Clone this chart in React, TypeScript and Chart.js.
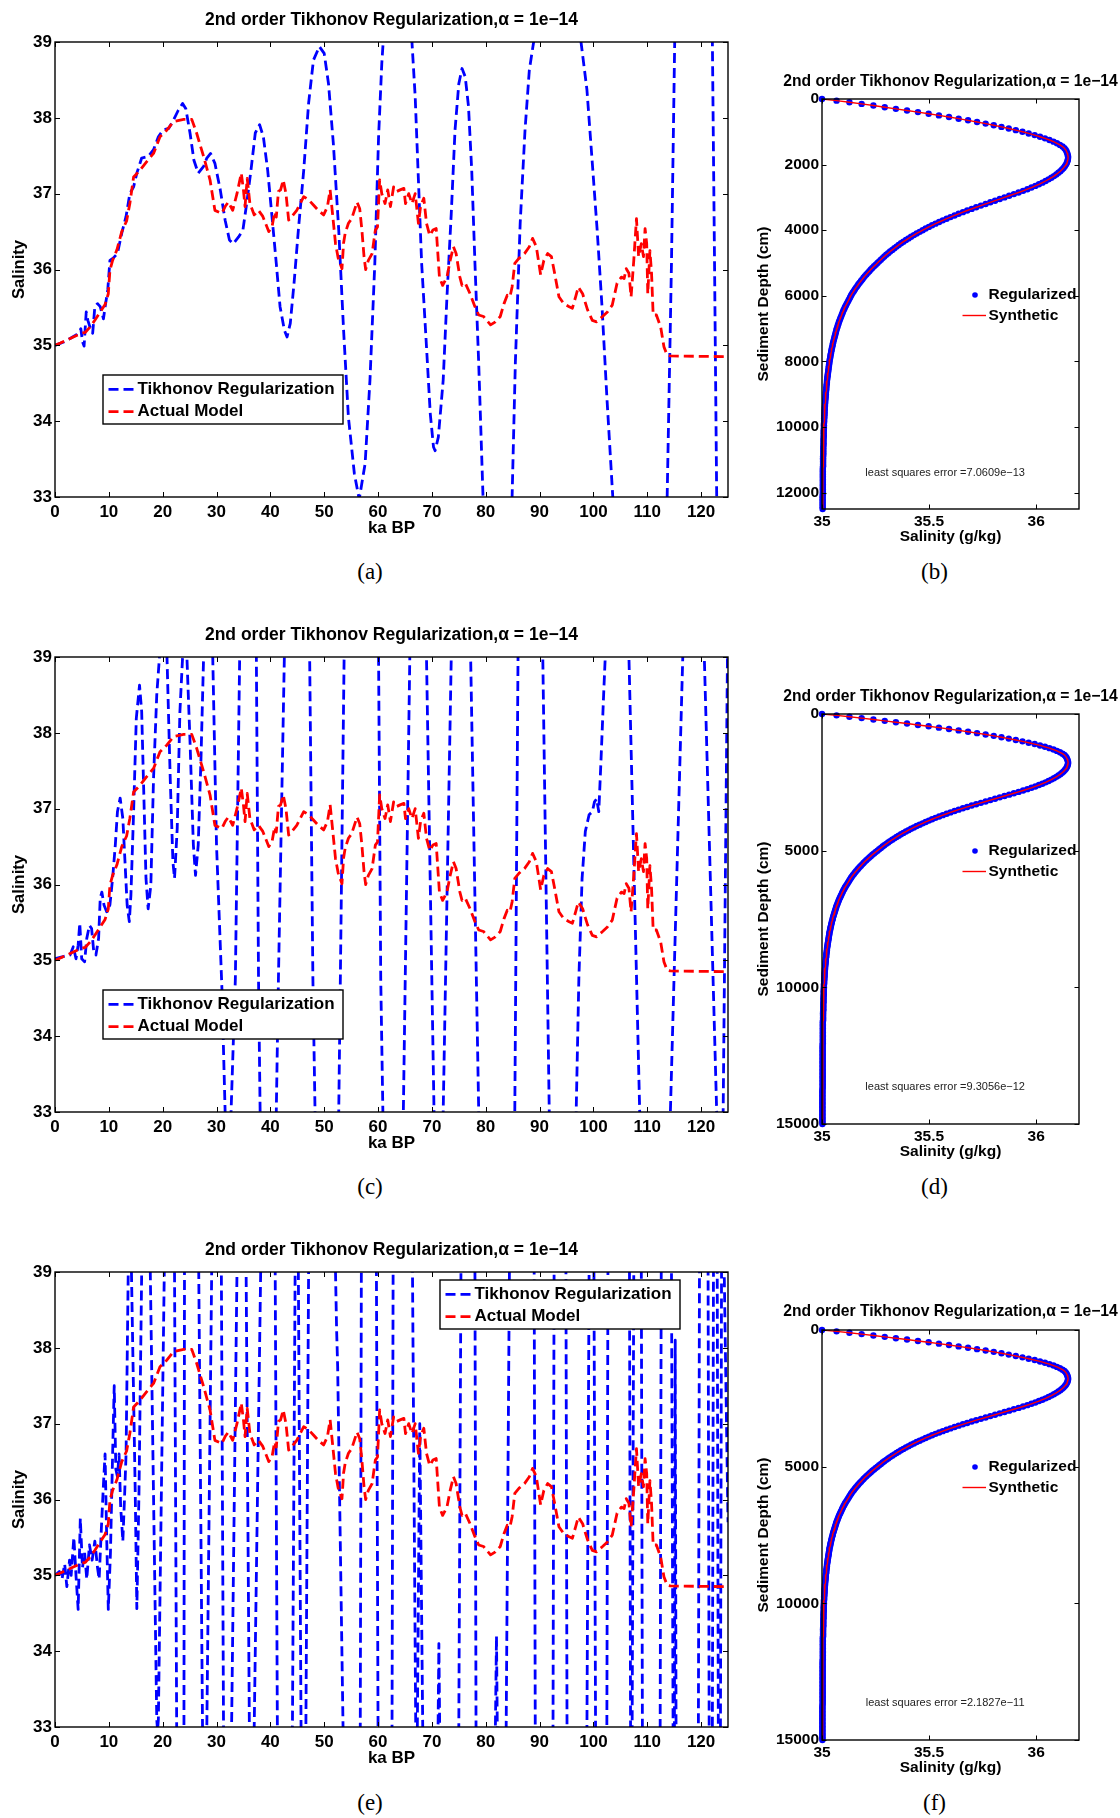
import React, { useEffect, useRef } from 'react';
import { Chart, registerables } from 'chart.js';

Chart.register(...registerables);

const FONT = '"Liberation Sans", Arial, Helvetica, sans-serif';
const SERIF = '"Liberation Serif", "Times New Roman", serif';
const BLUE = '#0000ff';
const RED = '#ff0000';
const TITLE = '2nd order Tikhonov Regularization,\u03b1 = 1e\u221214';

// Tick positions
const AGE_TICKS = [0, 10, 20, 30, 40, 50, 60, 70, 80, 90, 100, 110, 120];
const SALINITY_TICKS = [33, 34, 35, 36, 37, 38, 39];
const PROFILE_SALINITY_TICKS = [35, 35.5, 36];
const DEPTH_TICKS_SHORT = [0, 2000, 4000, 6000, 8000, 10000, 12000];
const DEPTH_TICKS_LONG = [0, 5000, 10000, 15000];

// Actual model salinity record: [age (ka BP), salinity]
const ACTUAL_MODEL: [number, number][] = [
  [0, 35.0], [1.0, 35.03], [2.2, 35.07], [3.4, 35.11], [4.6, 35.15], [5.6, 35.17], [6.5, 35.24], [7.4, 35.33],
  [8.4, 35.44], [9.3, 35.54], [9.9, 35.68], [10.2, 35.99], [10.7, 36.12], [11.5, 36.26], [12.4, 36.5], [13.3, 36.64],
  [13.9, 36.87], [14.6, 37.22], [15.8, 37.31], [17.0, 37.42], [18.3, 37.53], [19.5, 37.75], [20.8, 37.84], [22.0, 37.95],
  [23.9, 37.98], [25.4, 37.98], [26.3, 37.8], [27.6, 37.49], [28.8, 37.18], [29.7, 36.78], [31.0, 36.74], [31.6, 36.83],
  [32.2, 36.89], [33.0, 36.78], [33.8, 37.0], [34.6, 37.27], [35.0, 37.05], [35.3, 36.83], [35.7, 37.2], [36.2, 36.87],
  [37.0, 36.72], [37.8, 36.78], [38.6, 36.7], [39.7, 36.5], [40.3, 36.56], [40.8, 36.76], [41.1, 36.69], [41.5, 37.03],
  [41.9, 37.05], [42.4, 37.18], [42.9, 37.0], [43.4, 36.65], [44.0, 36.7], [44.9, 36.78], [46.2, 36.96], [47.1, 36.92],
  [48.0, 36.85], [48.9, 36.78], [49.9, 36.72], [50.6, 36.83], [51.1, 37.05], [51.6, 36.7], [52.1, 36.34], [52.6, 36.15],
  [53.3, 36.01], [53.6, 36.35], [53.9, 36.48], [54.5, 36.61], [55.1, 36.67], [55.6, 36.78], [56.1, 36.89], [56.6, 36.8],
  [57.0, 36.52], [57.4, 36.17], [57.7, 36.0], [58.2, 36.12], [58.9, 36.21], [59.5, 36.52], [59.9, 36.56], [60.3, 37.18],
  [60.7, 37.0], [61.3, 36.87], [61.8, 37.05], [62.3, 36.83], [62.9, 37.09], [63.5, 37.03], [64.1, 37.05], [64.8, 37.07],
  [65.1, 36.87], [65.7, 37.0], [66.3, 36.87], [66.9, 37.0], [67.5, 36.61], [67.9, 36.83], [68.5, 36.94], [69.0, 36.61],
  [69.6, 36.45], [70.2, 36.52], [70.8, 36.54], [71.4, 35.9], [72.0, 35.79], [72.8, 35.9], [73.4, 36.12], [74.0, 36.3],
  [74.5, 36.21], [75.2, 35.9], [75.6, 35.79], [76.2, 35.82], [77.1, 35.68], [78.0, 35.51], [78.7, 35.4], [79.6, 35.38],
  [80.9, 35.27], [81.8, 35.31], [82.7, 35.38], [83.4, 35.55], [84.0, 35.66], [84.5, 35.64], [84.9, 35.77], [85.4, 36.08],
  [86.2, 36.15], [87.2, 36.21], [88.1, 36.3], [88.7, 36.41], [89.4, 36.3], [90.2, 35.93], [90.8, 36.12], [91.5, 36.21],
  [92.2, 36.17], [92.8, 35.95], [93.6, 35.64], [94.5, 35.55], [95.5, 35.51], [96.1, 35.49], [96.7, 35.64], [97.2, 35.77],
  [98.0, 35.68], [98.9, 35.47], [99.8, 35.33], [100.6, 35.31], [101.7, 35.38], [102.6, 35.44], [103.5, 35.53], [104.4, 35.82],
  [105.2, 35.9], [105.7, 35.88], [106.1, 36.01], [106.6, 35.95], [107.0, 35.64], [107.5, 36.12], [108.0, 36.67], [108.4, 36.17],
  [108.9, 36.34], [109.3, 36.17], [109.6, 36.54], [109.9, 36.34], [110.1, 35.68], [110.5, 36.25], [110.8, 35.95], [111.1, 35.4],
  [111.7, 35.4], [112.5, 35.24], [113.1, 34.98], [113.7, 34.87], [114.3, 34.86], [125.0, 34.85],
];

// Tikhonov reconstruction, run (a)
const TIKHONOV_A: [number, number][] = [
  [0, 35.0], [1.5, 35.04], [2.8, 35.09], [4.0, 35.14], [4.5, 35.18], [4.8, 35.22], [5.1, 35.05], [5.4, 34.99],
  [5.8, 35.44], [6.1, 35.33], [6.5, 35.24], [7.0, 35.16], [7.4, 35.51], [7.9, 35.55], [8.4, 35.51], [9.0, 35.35],
  [9.4, 35.55], [9.8, 35.73], [10.2, 36.12], [10.8, 36.15], [11.6, 36.21], [12.4, 36.48], [13.2, 36.7], [13.9, 37.0],
  [14.6, 37.09], [15.2, 37.27], [16.1, 37.47], [17.3, 37.49], [18.3, 37.58], [19.2, 37.75], [20.1, 37.84], [21.1, 37.86],
  [22.0, 37.97], [22.9, 38.1], [23.7, 38.19], [24.3, 38.12], [25.1, 37.79], [25.8, 37.44], [26.6, 37.27], [27.6, 37.36],
  [28.2, 37.47], [28.9, 37.53], [29.7, 37.4], [30.7, 37.05], [31.6, 36.65], [32.4, 36.39], [33.1, 36.34], [34.1, 36.43],
  [34.9, 36.52], [35.6, 36.87], [36.4, 37.31], [37.2, 37.8], [38.0, 37.91], [38.7, 37.75], [39.5, 37.31], [40.3, 36.7],
  [41.1, 36.08], [41.8, 35.51], [42.6, 35.2], [43.1, 35.11], [43.7, 35.29], [44.4, 35.82], [45.2, 36.52], [46.2, 37.31],
  [47.1, 38.19], [48.0, 38.76], [49.1, 38.94], [50.0, 38.85], [50.8, 38.45], [51.7, 37.66], [52.7, 36.52], [53.6, 35.2],
  [54.5, 34.05], [55.6, 33.31], [56.5, 32.97], [57.6, 33.44], [58.5, 34.54], [59.4, 36.08], [60.1, 37.75], [60.7, 38.72],
  [61.5, 39.6], [62.5, 40.7], [63.6, 41.2], [64.8, 40.7], [65.8, 39.6], [66.9, 38.28], [67.5, 37.18], [68.1, 36.08],
  [69.0, 34.98], [69.7, 34.1], [70.3, 33.66], [70.6, 33.61], [71.2, 33.79], [72.1, 34.54], [72.8, 35.64], [73.6, 36.74],
  [74.3, 37.84], [75.0, 38.45], [75.6, 38.65], [76.2, 38.54], [76.8, 38.15], [77.4, 37.31], [78.0, 36.08], [78.7, 34.76],
  [79.5, 33.0], [80.5, 31.5], [82.2, 30.1], [83.9, 31.5], [84.9, 33.0], [85.5, 34.76], [86.4, 36.61], [87.3, 37.84],
  [88.1, 38.63], [88.9, 39.0], [90.5, 40.2], [93.3, 41.0], [96.0, 40.2], [97.7, 39.0], [98.8, 38.37], [99.8, 37.4],
  [100.7, 36.52], [101.6, 35.51], [102.5, 34.32], [103.6, 33.0], [105.5, 31.0], [108.6, 29.5], [111.7, 31.0], [113.7, 33.0],
  [114.5, 36.08], [115.1, 39.0], [116.5, 44.0], [118.6, 47.5], [120.7, 44.0], [122.1, 39.0], [122.5, 36.08], [122.9, 33.0],
  [123.8, 27.0], [125.0, 22.0],
];

// Tikhonov reconstruction, run (c)
const TIKHONOV_C: [number, number][] = [
  [0, 35.02], [1.5, 35.05], [2.8, 35.07], [3.4, 35.18], [3.9, 35.02], [4.3, 35.2], [4.6, 35.49], [4.96, 35.02],
  [5.5, 34.98], [5.9, 35.29], [6.4, 35.46], [6.8, 35.42], [7.2, 35.11], [7.6, 35.07], [8.1, 35.29], [8.4, 35.82],
  [8.7, 35.9], [9.1, 35.73], [9.6, 35.64], [10.2, 35.73], [10.7, 36.08], [11.2, 36.52], [11.6, 36.96], [12.1, 37.14],
  [12.6, 36.87], [13.0, 36.3], [13.4, 35.73], [13.8, 35.51], [14.1, 35.86], [14.6, 36.96], [15.1, 38.19], [15.7, 38.63],
  [16.1, 38.28], [16.5, 37.18], [16.9, 36.08], [17.3, 35.68], [17.8, 35.99], [18.3, 37.4], [18.9, 38.5], [19.4, 39.0],
  [20.1, 39.8], [20.8, 39.0], [21.4, 37.4], [21.9, 36.3], [22.2, 36.08], [22.7, 36.74], [23.2, 38.28], [23.7, 39.0],
  [24.1, 39.6], [24.5, 39.0], [25.1, 37.84], [25.7, 36.52], [26.1, 36.12], [26.6, 36.52], [27.1, 37.62], [27.6, 39.0],
  [28.45, 40.3], [29.3, 39.0], [30.0, 36.52], [31.0, 34.63], [31.6, 33.0], [32.15, 32.3], [32.7, 33.0], [33.5, 34.76],
  [34.3, 39.0], [35.85, 43.0], [37.4, 39.0], [37.8, 34.76], [38.1, 33.0], [39.6, 27.0], [41.1, 33.0], [41.5, 34.76],
  [42.6, 39.0], [44.95, 48.0], [47.3, 39.0], [47.9, 34.76], [48.3, 33.0], [50.5, 20.0], [52.7, 33.0], [53.0, 34.76],
  [53.7, 39.0], [56.9, 50.0], [60.1, 39.0], [60.5, 34.76], [60.9, 33.0], [62.8, 20.0], [64.7, 33.0], [65.9, 39.0],
  [67.45, 44.0], [69.0, 39.0], [70.4, 33.0], [71.25, 29.0], [72.1, 33.0], [73.6, 39.0], [75.4, 46.0], [77.2, 39.0],
  [78.7, 33.0], [82.05, 16.0], [85.4, 33.0], [86.0, 39.0], [88.3, 53.0], [90.6, 39.0], [91.8, 33.0], [94.3, 20.0],
  [96.8, 33.0], [97.3, 34.76], [97.9, 36.08], [98.5, 36.7], [99.2, 36.92], [99.8, 36.96], [100.2, 37.09], [100.6, 37.13],
  [101.0, 36.96], [101.4, 37.62], [101.9, 38.5], [102.2, 39.0], [104.4, 47.0], [106.6, 39.0], [108.6, 33.0], [111.45, 17.0],
  [114.3, 33.0], [116.6, 39.0], [118.6, 52.0], [120.6, 39.0], [122.9, 33.0], [123.5, 30.0], [124.1, 33.0], [124.9, 39.0],
  [125.0, 40.0],
];

// Tikhonov reconstruction, run (e)
const TIKHONOV_E: [number, number][] = [
  [0, 35.0], [0.8, 35.05], [1.3, 34.95], [1.8, 35.15], [2.2, 34.85], [2.7, 35.2], [3.0, 35.0], [3.5, 35.5],
  [3.9, 35.0], [4.3, 34.55], [4.7, 35.75], [5.1, 35.1], [5.5, 35.3], [5.9, 34.95], [6.4, 35.4], [6.9, 35.2],
  [7.4, 35.45], [7.9, 35.1], [8.2, 34.95], [8.6, 35.6], [9.0, 36.2], [9.3, 36.6], [9.6, 35.5], [9.9, 34.55],
  [10.3, 35.3], [10.7, 36.6], [11.0, 37.5], [11.3, 36.4], [11.6, 36.3], [11.9, 36.6], [12.2, 35.9], [12.6, 35.45],
  [12.9, 36.0], [13.2, 36.6], [13.6, 39.0], [13.9, 39.8], [14.2, 39.0], [14.9, 36.1], [15.2, 34.56], [15.6, 36.1],
  [16.1, 39.0], [16.9, 41.0], [17.7, 39.0], [18.9, 33.1], [19.05, 32.95], [19.2, 33.1], [20.3, 39.0], [21.2, 45.0],
  [22.2, 39.0], [22.6, 33.0], [23.3, 28.0], [23.95, 33.0], [24.05, 39.0], [25.4, 48.0], [26.7, 39.0], [27.4, 33.0],
  [27.8, 30.0], [28.2, 33.0], [29.1, 39.0], [30.0, 44.0], [30.9, 39.0], [31.3, 33.0], [32.0, 28.0], [32.8, 33.0],
  [33.8, 39.0], [34.6, 45.0], [35.5, 39.0], [36.1, 33.0], [36.5, 30.0], [37.0, 33.0], [38.2, 39.0], [39.6, 46.0],
  [40.9, 39.0], [41.3, 33.0], [42.7, 26.0], [44.1, 33.0], [44.6, 39.0], [44.9, 41.0], [45.2, 39.0], [45.7, 33.0],
  [46.15, 30.0], [46.6, 33.0], [47.1, 39.0], [49.6, 47.0], [52.1, 39.0], [52.3, 38.25], [52.5, 37.75], [53.5, 33.0],
  [55.1, 24.0], [56.7, 33.0], [56.9, 39.0], [58.3, 45.0], [59.7, 39.0], [60.0, 33.0], [61.3, 26.0], [62.6, 33.0],
  [62.8, 39.0], [64.6, 46.0], [66.4, 39.0], [67.0, 33.0], [67.15, 32.5], [67.3, 33.0], [67.75, 37.0], [68.3, 33.0],
  [69.7, 30.0], [71.15, 33.0], [71.3, 34.1], [71.45, 33.0], [73.2, 29.0], [75.0, 33.0], [75.4, 39.0], [76.7, 42.0],
  [78.0, 39.0], [78.2, 33.0], [80.0, 29.0], [81.8, 33.0], [82.0, 34.2], [82.15, 33.0], [83.0, 31.0], [83.8, 33.0],
  [84.4, 39.0], [86.7, 47.0], [89.0, 39.0], [89.2, 33.0], [90.85, 27.0], [92.5, 33.0], [92.7, 39.0], [93.8, 45.0],
  [94.9, 39.0], [95.1, 33.0], [96.9, 27.0], [98.8, 33.0], [99.2, 39.0], [99.65, 41.0], [100.1, 39.0], [100.4, 33.0],
  [101.45, 29.0], [102.5, 33.0], [102.7, 39.0], [104.7, 47.0], [106.7, 39.0], [106.9, 33.0], [107.05, 32.0], [107.2, 33.0],
  [107.5, 39.0], [108.2, 42.0], [108.9, 39.0], [109.1, 33.0], [110.75, 28.0], [112.4, 33.0], [112.6, 39.0], [113.55, 43.0],
  [114.5, 39.0], [114.8, 33.0], [114.95, 32.6], [115.05, 33.0], [115.2, 38.1], [115.35, 33.0], [117.4, 25.0], [119.5, 33.0],
  [119.7, 39.0], [120.5, 42.0], [121.3, 39.0], [121.5, 33.0], [121.8, 31.0], [122.1, 33.0], [122.3, 39.0], [122.65, 41.0],
  [123.0, 39.0], [123.2, 33.0], [123.4, 31.0], [123.6, 33.0], [123.8, 39.0], [124.05, 41.0], [124.3, 39.0], [125.0, 35.7],
];

// Pore-water salinity profile (g/kg), sampled every 50 cm from 0 to 15000 cm
const PROFILE_DEPTH_STEP = 50;
const PROFILE_SALINITY = [
  35.0, 35.068, 35.128, 35.185, 35.24, 35.293, 35.345, 35.397, 35.448, 35.498,
  35.546, 35.593, 35.638, 35.682, 35.724, 35.764, 35.802, 35.838, 35.872, 35.905,
  35.936, 35.965, 35.993, 36.018, 36.041, 36.062, 36.081, 36.097, 36.111, 36.123,
  36.132, 36.138, 36.142, 36.145, 36.147, 36.149, 36.149, 36.148, 36.146, 36.143,
  36.139, 36.134, 36.128, 36.121, 36.113, 36.104, 36.094, 36.083, 36.071, 36.058,
  36.044, 36.029, 36.013, 35.996, 35.978, 35.959, 35.939, 35.918, 35.896, 35.874,
  35.852, 35.83, 35.808, 35.786, 35.764, 35.742, 35.72, 35.699, 35.678, 35.658,
  35.638, 35.619, 35.6, 35.582, 35.564, 35.547, 35.53, 35.514, 35.499, 35.484,
  35.47, 35.456, 35.442, 35.429, 35.416, 35.404, 35.392, 35.38, 35.369, 35.358,
  35.348, 35.338, 35.328, 35.318, 35.309, 35.3, 35.291, 35.283, 35.275, 35.267,
  35.259, 35.251, 35.243, 35.235, 35.228, 35.221, 35.214, 35.207, 35.2, 35.194,
  35.188, 35.182, 35.176, 35.17, 35.165, 35.159, 35.154, 35.149, 35.144, 35.139,
  35.135, 35.131, 35.127, 35.123, 35.119, 35.115, 35.111, 35.107, 35.104, 35.1,
  35.097, 35.094, 35.091, 35.088, 35.085, 35.082, 35.079, 35.077, 35.074, 35.072,
  35.069, 35.067, 35.065, 35.063, 35.061, 35.059, 35.057, 35.055, 35.053, 35.051,
  35.05, 35.048, 35.046, 35.045, 35.043, 35.042, 35.04, 35.039, 35.038, 35.036,
  35.035, 35.034, 35.033, 35.032, 35.031, 35.03, 35.029, 35.028, 35.027, 35.026,
  35.025, 35.024, 35.023, 35.023, 35.022, 35.021, 35.02, 35.02, 35.019, 35.018,
  35.018, 35.017, 35.017, 35.016, 35.015, 35.015, 35.014, 35.014, 35.013, 35.013,
  35.012, 35.012, 35.012, 35.011, 35.011, 35.01, 35.01, 35.01, 35.009, 35.009,
  35.009, 35.009, 35.008, 35.008, 35.008, 35.008, 35.008, 35.007, 35.007, 35.007,
  35.007, 35.007, 35.006, 35.006, 35.006, 35.006, 35.006, 35.006, 35.005, 35.005,
  35.005, 35.005, 35.005, 35.005, 35.005, 35.004, 35.004, 35.004, 35.004, 35.004,
  35.004, 35.004, 35.004, 35.004, 35.004, 35.004, 35.004, 35.004, 35.004, 35.004,
  35.004, 35.004, 35.003, 35.003, 35.003, 35.003, 35.003, 35.003, 35.003, 35.003,
  35.003, 35.003, 35.003, 35.003, 35.003, 35.003, 35.003, 35.003, 35.003, 35.003,
  35.003, 35.003, 35.003, 35.003, 35.003, 35.003, 35.003, 35.003, 35.003, 35.003,
  35.003, 35.003, 35.003, 35.003, 35.003, 35.002, 35.002, 35.002, 35.002, 35.002,
  35.002, 35.002, 35.002, 35.002, 35.002, 35.002, 35.002, 35.002, 35.002, 35.002,
  35.002, 35.002, 35.002, 35.002, 35.002, 35.002, 35.002, 35.002, 35.002, 35.002,
  35.002,
];

const toPoints = (pairs: [number, number][]) => pairs.map(([x, y]) => ({ x, y }));
const fixedTicks = (values: number[]) => (scale: any) => {
  scale.ticks = values.map((value) => ({ value }));
};
const plainLabel = (v: number) => String(v);

// Title drawn centred over the plot box (it may be wider than the box)
function titlePlugin(text: string, size: number, offset: number) {
  return {
    id: 'boxTitle',
    afterDraw(chart: any) {
      const { ctx, chartArea } = chart;
      ctx.save();
      ctx.font = `bold ${size}px ${FONT}`;
      ctx.fillStyle = '#000';
      ctx.textAlign = 'center';
      ctx.textBaseline = 'middle';
      ctx.fillText(text, (chartArea.left + chartArea.right) / 2, chartArea.top - offset);
      ctx.restore();
    },
  };
}

// Closed axes box with inward tick marks on all four sides
function framePlugin(tickLen: number) {
  return {
    id: 'axesFrame',
    afterDatasetsDraw(chart: any) {
      const { ctx, chartArea, scales } = chart;
      const { left, right, top, bottom } = chartArea;
      ctx.save();
      ctx.strokeStyle = '#000';
      ctx.lineWidth = 1;
      ctx.setLineDash([]);
      ctx.beginPath();
      for (const t of scales.x.ticks) {
        const px = Math.round(scales.x.getPixelForValue(t.value)) + 0.5;
        ctx.moveTo(px, bottom);
        ctx.lineTo(px, bottom - tickLen);
        ctx.moveTo(px, top);
        ctx.lineTo(px, top + tickLen);
      }
      for (const t of scales.y.ticks) {
        const py = Math.round(scales.y.getPixelForValue(t.value)) + 0.5;
        ctx.moveTo(left, py);
        ctx.lineTo(left + tickLen, py);
        ctx.moveTo(right, py);
        ctx.lineTo(right - tickLen, py);
      }
      ctx.stroke();
      ctx.lineWidth = 1.4;
      ctx.strokeRect(left, top, right - left, bottom - top);
      ctx.restore();
    },
  };
}

// Boxed legend with line samples taken from the datasets
function boxLegendPlugin(dx: number, dy: number) {
  return {
    id: 'boxLegend',
    afterDraw(chart: any) {
      const { ctx, chartArea } = chart;
      const x0 = Math.round(chartArea.left + dx);
      const y0 = Math.round(chartArea.top + dy);
      const w = 240;
      const h = 49;
      ctx.save();
      ctx.fillStyle = '#fff';
      ctx.fillRect(x0, y0, w, h);
      ctx.strokeStyle = '#000';
      ctx.lineWidth = 1.4;
      ctx.strokeRect(x0, y0, w, h);
      ctx.font = `bold 17px ${FONT}`;
      ctx.textAlign = 'left';
      ctx.textBaseline = 'middle';
      chart.data.datasets.forEach((ds: any, i: number) => {
        const y = y0 + 14.3 + i * 22.4;
        ctx.strokeStyle = ds.borderColor;
        ctx.lineWidth = ds.borderWidth;
        ctx.setLineDash(ds.borderDash || []);
        ctx.beginPath();
        ctx.moveTo(x0 + 5.5, y);
        ctx.lineTo(x0 + 31.5, y);
        ctx.stroke();
        ctx.setLineDash([]);
        ctx.fillStyle = '#000';
        ctx.fillText(ds.label, x0 + 34.5, y);
      });
      ctx.restore();
    },
  };
}

// Unboxed legend: marker or line sample, then label
function markerLegendPlugin(dy: number) {
  return {
    id: 'markerLegend',
    afterDraw(chart: any) {
      const { ctx, chartArea } = chart;
      const x0 = chartArea.left;
      ctx.save();
      ctx.font = `bold 15.5px ${FONT}`;
      ctx.textAlign = 'left';
      ctx.textBaseline = 'middle';
      chart.data.datasets.forEach((ds: any, i: number) => {
        const y = chartArea.top + dy + i * 20.5;
        if (ds.showLine === false) {
          ctx.fillStyle = ds.pointBackgroundColor;
          ctx.beginPath();
          ctx.arc(x0 + 153, y, 2.8, 0, Math.PI * 2);
          ctx.fill();
        } else {
          ctx.strokeStyle = ds.borderColor;
          ctx.lineWidth = ds.borderWidth;
          ctx.beginPath();
          ctx.moveTo(x0 + 140.5, y);
          ctx.lineTo(x0 + 164, y);
          ctx.stroke();
        }
        ctx.fillStyle = '#000';
        ctx.fillText(ds.label, x0 + 166.5, y);
      });
      ctx.restore();
    },
  };
}

// Annotation placed in data coordinates
function notePlugin(text: string, sal: number, depth: number) {
  return {
    id: 'errorNote',
    afterDatasetsDraw(chart: any) {
      const { ctx, scales } = chart;
      ctx.save();
      ctx.font = `11px ${FONT}`;
      ctx.fillStyle = '#222';
      ctx.textAlign = 'center';
      ctx.textBaseline = 'middle';
      ctx.fillText(text, scales.x.getPixelForValue(sal), scales.y.getPixelForValue(depth));
      ctx.restore();
    },
  };
}

const dashed = (label: string, color: string, pairs: [number, number][], order: number) => ({
  label,
  data: toPoints(pairs),
  borderColor: color,
  backgroundColor: color,
  borderWidth: 2.8,
  borderDash: [10, 5],
  borderJoinStyle: 'round',
  pointRadius: 0,
  tension: 0,
  fill: false,
  order,
});

function timeSeriesConfig(tikhonov: [number, number][], legendDx: number, legendDy: number) {
  const tickFont = { family: FONT, size: 17, weight: 'bold' };
  return {
    type: 'line',
    data: {
      datasets: [
        dashed('Tikhonov Regularization', BLUE, tikhonov, 2),
        dashed('Actual Model', RED, ACTUAL_MODEL, 1),
      ],
    },
    options: {
      responsive: false,
      animation: false,
      devicePixelRatio: 1,
      events: [],
      layout: { padding: { top: 42, right: 12, left: 0, bottom: 0 } },
      plugins: { legend: { display: false }, tooltip: { enabled: false }, title: { display: false } },
      scales: {
        x: {
          type: 'linear',
          min: 0,
          max: 125,
          afterBuildTicks: fixedTicks(AGE_TICKS),
          afterFit: (s: any) => { s.height = 45; },
          grid: { display: false, drawTicks: false },
          border: { display: false },
          ticks: { autoSkip: false, maxRotation: 0, padding: 5, color: '#000', font: tickFont, callback: plainLabel },
          title: { display: true, text: 'ka BP', color: '#000', font: tickFont, padding: { top: 0, bottom: 3 } },
        },
        y: {
          type: 'linear',
          min: 33,
          max: 39,
          afterBuildTicks: fixedTicks(SALINITY_TICKS),
          afterFit: (s: any) => { s.width = 55; },
          grid: { display: false, drawTicks: false },
          border: { display: false },
          ticks: { autoSkip: false, padding: 3, color: '#000', font: tickFont, callback: plainLabel },
          title: { display: true, text: 'Salinity', color: '#000', font: { family: FONT, size: 16.6, weight: 'bold' }, padding: { top: 9.5, bottom: 0 } },
        },
      },
    },
    plugins: [framePlugin(5), titlePlugin(TITLE, 17.5, 21.4), boxLegendPlugin(legendDx, legendDy)],
  };
}

function profileConfig(depthMax: number, depthTicks: number[], note: string, noteDepth: number, legendDy: number, titleOffset: number) {
  const count = depthMax / PROFILE_DEPTH_STEP + 1;
  const pts = PROFILE_SALINITY.slice(0, count).map((s, i) => ({ x: s, y: i * PROFILE_DEPTH_STEP }));
  const font = { family: FONT, size: 15.5, weight: 'bold' };
  return {
    type: 'line',
    data: {
      datasets: [
        {
          label: 'Regularized',
          data: pts,
          showLine: false,
          pointRadius: 3.2,
          pointBackgroundColor: BLUE,
          pointBorderWidth: 0,
          borderColor: BLUE,
          clip: false,
          order: 2,
        },
        {
          label: 'Synthetic',
          data: pts,
          borderColor: RED,
          borderWidth: 1.4,
          pointRadius: 0,
          tension: 0,
          fill: false,
          order: 1,
        },
      ],
    },
    options: {
      responsive: false,
      animation: false,
      devicePixelRatio: 1,
      events: [],
      layout: { padding: { top: 40, right: 41, left: 0, bottom: 0 } },
      plugins: { legend: { display: false }, tooltip: { enabled: false }, title: { display: false } },
      scales: {
        x: {
          type: 'linear',
          min: 35,
          max: 36.2,
          afterBuildTicks: fixedTicks(PROFILE_SALINITY_TICKS),
          afterFit: (s: any) => { s.height = 40; },
          grid: { display: false, drawTicks: false },
          border: { display: false },
          ticks: { autoSkip: false, maxRotation: 0, padding: 3, color: '#000', font, callback: plainLabel },
          title: { display: true, text: 'Salinity (g/kg)', color: '#000', font, padding: { top: 0, bottom: 3 } },
        },
        y: {
          type: 'linear',
          reverse: true,
          min: 0,
          max: depthMax,
          afterBuildTicks: fixedTicks(depthTicks),
          afterFit: (s: any) => { s.width = 82; },
          grid: { display: false, drawTicks: false },
          border: { display: false },
          ticks: { autoSkip: false, padding: 3, color: '#000', font, callback: plainLabel },
          title: { display: true, text: 'Sediment Depth (cm)', color: '#000', font, padding: { top: 14.4, bottom: 0 } },
        },
      },
    },
    plugins: [framePlugin(4.5), titlePlugin(TITLE, 15.7, titleOffset), notePlugin(note, 35.575, noteDepth), markerLegendPlugin(legendDy)],
  };
}

function ChartBox({ make, left, top, width, height }: { make: () => any; left: number; top: number; width: number; height: number }) {
  const ref = useRef<HTMLCanvasElement>(null);
  useEffect(() => {
    if (!ref.current) return;
    const chart = new Chart(ref.current, make());
    return () => chart.destroy();
  }, []);
  return (
    <canvas
      ref={ref}
      width={width}
      height={height}
      style={{ position: 'absolute', left, top, width, height }}
    />
  );
}

function Caption({ text, cx, cy }: { text: string; cx: number; cy: number }) {
  return (
    <div
      style={{
        position: 'absolute',
        left: cx - 40,
        top: cy - 16,
        width: 80,
        height: 32,
        lineHeight: '32px',
        textAlign: 'center',
        fontFamily: SERIF,
        fontSize: 23,
        color: '#000',
      }}
    >
      {text}
    </div>
  );
}

export default function App() {
  return (
    <div
      style={{
        position: 'absolute',
        left: 0,
        top: 0,
        width: 1120,
        height: 1818,
        overflow: 'hidden',
        background: '#fff',
      }}
    >
      <ChartBox make={() => timeSeriesConfig(TIKHONOV_A, 47.7, 333)} left={0} top={0} width={740} height={542} />
      <ChartBox make={() => timeSeriesConfig(TIKHONOV_C, 47.7, 333)} left={0} top={615} width={740} height={542} />
      <ChartBox make={() => timeSeriesConfig(TIKHONOV_E, 384.5, 7.5)} left={0} top={1230} width={740} height={542} />

      <ChartBox make={() => profileConfig(12500, DEPTH_TICKS_SHORT, 'least squares error =7.0609e\u221213', 11400, 196, 17.3)} left={740} top={59} width={380} height={490} />
      <ChartBox make={() => profileConfig(15000, DEPTH_TICKS_LONG, 'least squares error =9.3056e\u221212', 13650, 137, 17.4)} left={740} top={674} width={380} height={490} />
      <ChartBox make={() => profileConfig(15000, DEPTH_TICKS_LONG, 'least squares error =2.1827e\u221211', 13650, 137, 17.9)} left={740} top={1290} width={380} height={490} />

      <Caption text="(a)" cx={370} cy={572} />
      <Caption text="(b)" cx={934.5} cy={572} />
      <Caption text="(c)" cx={370} cy={1187} />
      <Caption text="(d)" cx={934.5} cy={1187} />
      <Caption text="(e)" cx={370} cy={1803} />
      <Caption text="(f)" cx={934.5} cy={1803} />
    </div>
  );
}
